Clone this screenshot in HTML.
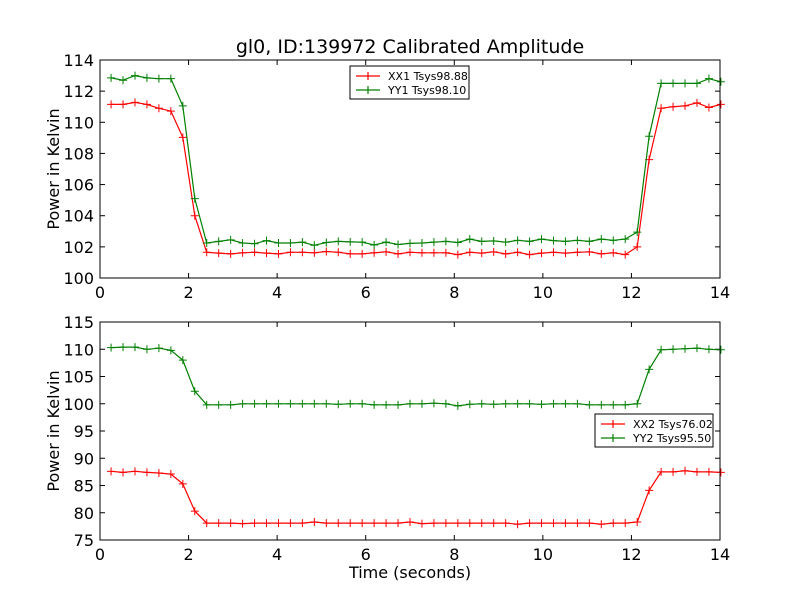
<!DOCTYPE html>
<html><head><meta charset="utf-8"><style>
body{margin:0;background:#fff;}
svg text{font-family:"DejaVu Sans","Liberation Sans",sans-serif;}
</style></head><body>
<svg id="chart" width="800" height="600" xmlns="http://www.w3.org/2000/svg">
<rect width="800" height="600" fill="#fff"/>
</svg>
<script>
const xx1 = [111.15,111.15,111.28,111.15,110.9,110.72,109.03,104.0,101.65,101.6,101.55,101.62,101.65,101.6,101.55,101.65,101.65,101.62,101.7,101.65,101.55,101.55,101.62,101.68,101.55,101.65,101.62,101.62,101.62,101.5,101.65,101.6,101.68,101.55,101.65,101.5,101.6,101.65,101.6,101.65,101.68,101.55,101.62,101.5,102.0,107.6,110.9,111.0,111.05,111.25,110.95,111.15];
const yy1 = [112.85,112.7,113.0,112.85,112.8,112.8,111.05,105.1,102.25,102.35,102.45,102.25,102.2,102.4,102.25,102.25,102.3,102.1,102.28,102.35,102.32,102.3,102.12,102.3,102.15,102.22,102.25,102.3,102.35,102.28,102.5,102.35,102.38,102.3,102.42,102.35,102.5,102.4,102.35,102.42,102.35,102.5,102.42,102.5,102.95,109.1,112.5,112.5,112.5,112.5,112.8,112.6];
const xx2 = [87.6,87.4,87.6,87.4,87.3,87.1,85.3,80.3,78.1,78.1,78.1,78.0,78.1,78.1,78.1,78.1,78.1,78.3,78.1,78.1,78.1,78.1,78.1,78.1,78.1,78.3,78.0,78.1,78.1,78.1,78.1,78.1,78.1,78.1,77.9,78.1,78.1,78.1,78.1,78.1,78.1,77.9,78.1,78.1,78.3,84.1,87.5,87.5,87.7,87.5,87.5,87.4];
const yy2 = [110.3,110.4,110.4,110.0,110.2,109.8,108.0,102.3,99.8,99.8,99.8,100.0,100.0,100.0,100.0,100.0,100.0,100.0,100.0,99.9,100.0,100.0,99.8,99.8,99.8,100.0,100.0,100.1,100.0,99.6,99.9,100.0,99.9,100.0,100.0,100.0,99.9,100.0,100.0,100.0,99.8,99.8,99.8,99.8,100.0,106.3,109.9,110.0,110.1,110.2,110.0,109.9];
const times = xx1.map((_, i) => 0.25 + i * 0.27);
const xTicks = [0,2,4,6,8,10,12,14];
const yTicksTop = [100,102,104,106,108,110,112,114];
const yTicksBot = [75,80,85,90,95,100,105,110,115];

const NS = "http://www.w3.org/2000/svg";
const svg = document.getElementById('chart');
function mk(tag, attrs, parent) {
  const e = document.createElementNS(NS, tag);
  for (const k in attrs) e.setAttribute(k, attrs[k]);
  (parent || svg).appendChild(e);
  return e;
}
const L = 100, R = 720;
const sx = v => L + (v - 0) / 14 * (R - L);

function panel(name, top, bot, ymin, ymax, yTicks, series, legend) {
  const sy = v => bot - (v - ymin) / (ymax - ymin) * (bot - top);
  const g = mk('g', {});
  
  
  xTicks.forEach(t => {
    const x = sx(t);
    mk('line', {x1:x, y1:bot, x2:x, y2:bot-5, stroke:'#000', 'stroke-width':1}, g);
    mk('line', {x1:x, y1:top, x2:x, y2:top+5, stroke:'#000', 'stroke-width':1}, g);
    const tx = mk('text', {x:x, y:bot+20, 'font-size':16, 'text-anchor':'middle'}, g);
    tx.textContent = t;
    
    
  });
  yTicks.forEach(t => {
    const y = sy(t);
    mk('line', {x1:L, y1:y, x2:L+5, y2:y, stroke:'#000', 'stroke-width':1}, g);
    mk('line', {x1:R, y1:y, x2:R-5, y2:y, stroke:'#000', 'stroke-width':1}, g);
    const tx = mk('text', {x:L-6, y:y+6, 'font-size':16, 'text-anchor':'end'}, g);
    tx.textContent = t;
    
    
  });
  series.forEach(s => {
    const pts = s.data.map((v, i) => sx(times[i]).toFixed(1) + ',' + sy(v).toFixed(1)).join(' ');
    const pl = mk('polyline', {points:pts, fill:'none', stroke:s.color, 'stroke-width':1.2}, g);
    
    
    s.data.forEach((v, i) => {
      const x = sx(times[i]), y = sy(v);
      const p = mk('path', {d:`M${x-4},${y}H${x+4}M${x},${y-4}V${y+4}`, stroke:s.color, 'stroke-width':1}, g);
      
      
    });
  });
  const fr = mk('rect', {x:L, y:top, width:R-L, height:bot-top, fill:'none', stroke:'#000', 'stroke-width':1}, g);
  
  
  const lg = mk('g', {}, g);
  
  
  mk('rect', {x:legend.x, y:legend.y, width:legend.w, height:33, fill:'#fff', stroke:'#000', 'stroke-width':1}, lg);
  series.forEach((s, i) => {
    const y = legend.y + 10 + i * 14;
    const x0 = legend.x + 6;
    mk('path', {d:`M${x0},${y}H${x0+24}M${x0+12},${y-4}V${y+4}`, stroke:s.color, 'stroke-width':1.2}, lg);
    const tx = mk('text', {x:x0+32, y:y+4, 'font-size':11}, lg);
    tx.textContent = s.label;
    
    
  });
  return sy;
}

panel('top-panel', 60, 278, 100, 114, yTicksTop,
  [{name:'xx1', data:xx1, color:'#ff0000', label:'XX1 Tsys98.88'},
   {name:'yy1', data:yy1, color:'#008000', label:'YY1 Tsys98.10'}],
  {x:350, y:66, w:119});
panel('bottom-panel', 322, 540, 75, 115, yTicksBot,
  [{name:'xx2', data:xx2, color:'#ff0000', label:'XX2 Tsys76.02'},
   {name:'yy2', data:yy2, color:'#008000', label:'YY2 Tsys95.50'}],
  {x:595, y:414, w:118});

let t = mk('text', {x:410, y:53, 'font-size':19, 'text-anchor':'middle'});
t.textContent = 'gl0, ID:139972 Calibrated Amplitude';


t = mk('text', {x:410, y:578, 'font-size':16, 'text-anchor':'middle'});
t.textContent = 'Time (seconds)';


t = mk('text', {x:0, y:0, 'font-size':16, 'text-anchor':'middle', transform:'translate(59,169) rotate(-90)'});
t.textContent = 'Power in Kelvin';


t = mk('text', {x:0, y:0, 'font-size':16, 'text-anchor':'middle', transform:'translate(59,431) rotate(-90)'});
t.textContent = 'Power in Kelvin';


</script>
</body></html>
